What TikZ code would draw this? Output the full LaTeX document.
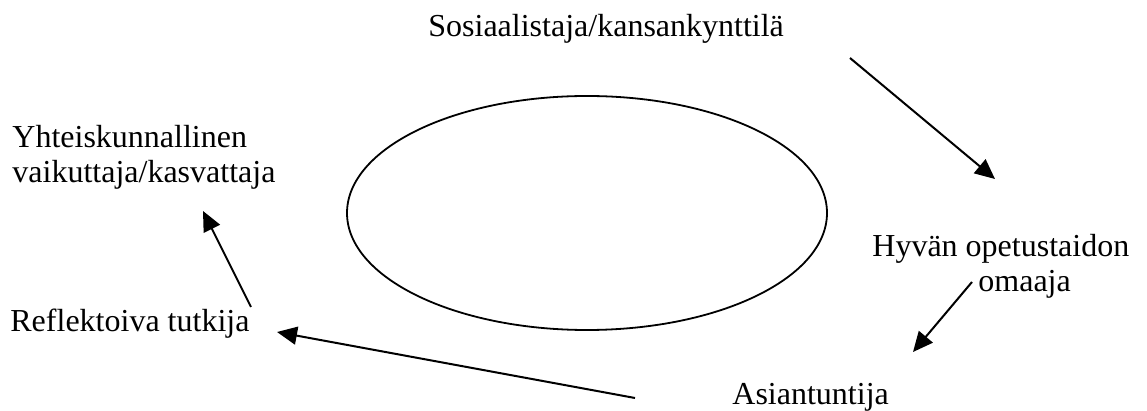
\documentclass[tikz,border=0pt]{standalone}
\usepackage{fontspec}
\setmainfont{Liberation Serif}
\usepackage{tikz}
\usetikzlibrary{arrows.meta}

\begin{document}
\begin{tikzpicture}[x=0.5pt,y=-0.5pt,
  lbl/.style={inner sep=0pt,anchor=base west,align=left,font=\fontsize{16}{17.5}\selectfont},
  arr/.style={line width=1pt,-{Triangle[length=10pt,width=9pt]}}]
\useasboundingbox (0,0) rectangle (1147,411);
% centre
\draw[line width=0.9pt] (587,213) ellipse [x radius=240,y radius=117];
% labels
\node[lbl] (sos) at (428,37) {Sosiaalistaja/kansankynttilä};
\node[lbl] (hyv) at (872,292) {Hyvän opetustaidon\\\hspace*{53pt}omaaja};
\node[lbl] (asi) at (732,405) {Asiantuntija};
\node[lbl] (ref) at (10,332) {Reflektoiva tutkija};
\node[lbl] (yht) at (12,183) {Yhteiskunnallinen\\vaikuttaja/kasvattaja};
% arrow ends
\coordinate (a1s) at (850,58);  \coordinate (a1e) at (995,179);
\coordinate (a2s) at (972,282); \coordinate (a2e) at (913,352);
\coordinate (a3s) at (635,398); \coordinate (a3e) at (277,332);
\coordinate (a4s) at (251,307); \coordinate (a4e) at (203,211);
\draw[arr] (a1s) -- (a1e);
\draw[arr] (a2s) -- (a2e);
\draw[arr] (a3s) -- (a3e);
\draw[arr] (a4s) -- (a4e);
\end{tikzpicture}
\end{document}
